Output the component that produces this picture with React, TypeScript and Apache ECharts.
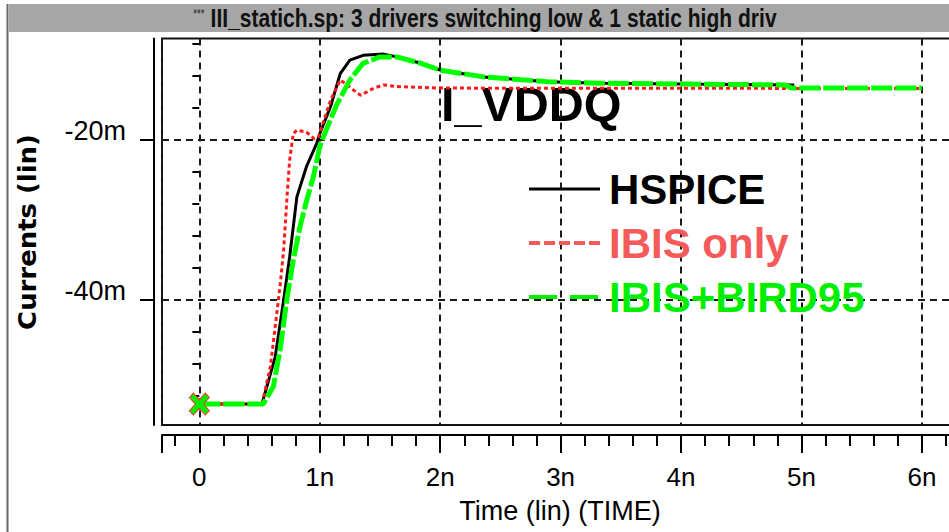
import React, { useEffect, useRef } from 'react';
import * as echarts from 'echarts';

// ---- data (time in ns, current in mA) ----
const hspiceT = [0, 0.52, 0.63, 0.70, 0.75, 0.81, 0.89, 0.975, 1.0, 1.09, 1.17, 1.25, 1.36, 1.53, 1.64, 1.84, 2.0, 2.36, 2.89, 3.33, 4.05, 4.94];
const hspiceV = [-53.0, -53.0, -47.1, -40.0, -34.6, -27.1, -23.3, -20.4, -19.2, -15.8, -11.7, -10.0, -9.4, -9.25, -9.6, -10.4, -11.25, -12.1, -12.7, -12.9, -13.0, -13.1];

const ibisT = [0, 0.52, 0.59, 0.67, 0.70, 0.73, 0.75, 0.78, 0.81, 0.89, 0.95, 0.99, 1.09, 1.17, 1.21, 1.28, 1.34, 1.45, 1.53, 1.64, 2.0, 6.0];
const ibisV = [-53.0, -53.0, -48.3, -38.3, -33.8, -26.7, -22.5, -19.2, -18.75, -19.0, -19.8, -19.6, -15.0, -12.5, -12.9, -13.75, -14.4, -13.5, -13.1, -13.3, -13.5, -13.55];

const birdT = [0, 0.53, 0.615, 0.67, 0.726, 0.78, 0.836, 0.892, 0.947, 1.0, 1.03, 1.14, 1.25, 1.36, 1.5, 1.64, 1.84, 2.0, 2.36, 2.89, 3.33, 4.05, 4.86, 4.92, 6.0];
const birdV = [-53.0, -53.0, -50.8, -46.25, -40.0, -35.0, -30.8, -27.5, -24.6, -20.8, -19.6, -15.6, -12.5, -10.4, -9.6, -9.6, -10.4, -11.25, -12.1, -12.7, -12.9, -13.0, -13.1, -13.5, -13.5];

const markerT = [0];
const markerV = [-53.0];

const xMajorTicks = [-0.31, 0, 1, 2, 3, 4, 5, 6];
const xLabels = [0, 1, 2, 3, 4, 5, 6];
const xMinorTicks = [-0.2, 0.2, 0.4, 0.6, 0.8, 1.2, 1.4, 1.6, 1.8, 2.2, 2.4, 2.6, 2.8, 3.2, 3.4, 3.6, 3.8, 4.2, 4.4, 4.6, 4.8, 5.2, 5.4, 5.6, 5.8, 6.2];
const yLabels = [-40, -20];
const yMinorTicks = [-52, -48, -44, -36, -32, -28, -24, -16, -12, -8];

const seriesNames = ['HSPICE', 'IBIS only', 'IBIS+BIRD95'];
const titleText = 'III_statich.sp: 3 drivers switching low & 1 static high driv';
const annotation = 'I_VDDQ';
const yName = 'Currents (lin)';
const xName = 'Time (lin) (TIME)';

const pair = (t: number[], v: number[]) => t.map((x, i) => [x, v[i]]);

const sans = "'Liberation Sans', Arial, sans-serif";
const hiddenSymbol = { color: 'rgba(0,0,0,0)', borderColor: 'rgba(0,0,0,0)', borderWidth: 0, opacity: 0 };

export default function App() {
  const ref = useRef<HTMLDivElement>(null);
  useEffect(() => {
    const chart = echarts.init(ref.current!, null, { renderer: 'svg' });
    const option: any = {
      animation: false,
      backgroundColor: '#ffffff',
      grid: {
        left: 162, top: 38.5, width: 796, height: 386.4,
        show: true, borderColor: '#111', borderWidth: 2,
        containLabel: false, outerBoundsMode: 'none',
      },
      xAxis: [
        {
          type: 'value', min: -0.31, max: 6.3, position: 'bottom', offset: 10,
          axisLine: { show: true, onZero: false, lineStyle: { color: '#000', width: 2 } },
          axisTick: { show: true, length: 18, customValues: xMajorTicks, lineStyle: { color: '#000', width: 2 } },
          axisLabel: {
            customValues: xLabels, margin: 29, fontSize: 26, color: '#000', fontFamily: sans,
            formatter: (v: number) => (v === 0 ? '0' : `${v}n`),
          },
          splitLine: { show: true, lineStyle: { color: '#1a1a1a', width: 2, type: [7, 5] } },
          name: xName, nameLocation: 'middle', nameGap: 63,
          nameTextStyle: { fontSize: 27, color: '#000', fontFamily: sans },
        },
        {
          type: 'value', min: -0.31, max: 6.3, position: 'bottom', offset: 10,
          axisLine: { show: false },
          axisTick: { show: true, length: 11, customValues: xMinorTicks, lineStyle: { color: '#000', width: 2 } },
          axisLabel: { show: false },
          splitLine: { show: false },
        },
      ],
      yAxis: [
        {
          type: 'value', min: -55.6, max: -7.3, position: 'left', offset: 8,
          axisLine: { show: true, onZero: false, lineStyle: { color: '#000', width: 2 } },
          axisTick: { show: true, length: 14, customValues: yLabels, lineStyle: { color: '#000', width: 2 } },
          axisLabel: {
            customValues: yLabels, margin: 28, fontSize: 27, color: '#000', fontFamily: sans,
            verticalAlign: 'bottom', lineHeight: 18,
            formatter: (v: number) => `${v}m`,
          },
          splitLine: { show: true, lineStyle: { color: '#1a1a1a', width: 2, type: [7, 5] } },
        },
        {
          type: 'value', min: -55.6, max: -7.3, position: 'left', offset: 8,
          axisLine: { show: false },
          axisTick: { show: true, length: 7, customValues: yMinorTicks, lineStyle: { color: '#000', width: 2 } },
          axisLabel: { show: false },
          splitLine: { show: false },
        },
      ],
      legend: {
        orient: 'vertical', left: 527, top: 168, itemWidth: 71, itemHeight: 20, itemGap: 12,
        selectedMode: false, padding: 0,
        textStyle: { fontSize: 42, fontWeight: 'bold', fontFamily: sans, lineHeight: 42, padding: [0, 0, 0, 4] },
        data: [
          { name: seriesNames[0], textStyle: { color: '#000' }, itemStyle: hiddenSymbol, lineStyle: { color: '#000', width: 3, type: 'solid' } },
          { name: seriesNames[1], textStyle: { color: '#f55a5a' }, itemStyle: hiddenSymbol, lineStyle: { color: '#f55a5a', width: 4, type: [11, 4] } },
          { name: seriesNames[2], textStyle: { color: '#00ee00' }, itemStyle: hiddenSymbol, lineStyle: { color: '#00ee00', width: 4, type: [28, 13] } },
        ],
      },
      graphic: [
        { type: 'line', shape: { x1: 7.5, y1: 4, x2: 7.5, y2: 532 }, style: { stroke: '#666', lineWidth: 2 } },
        { type: 'rect', shape: { x: 9, y: 4, width: 940, height: 28 }, style: { fill: '#a6a6a6' } },
        {
          type: 'text', x: 485, y: 18, scaleX: 0.81,
          style: {
            text: `{a|***} ${titleText}`,
            rich: { a: { fontSize: 12, fontFamily: sans, fill: '#222', padding: [0, 0, 9, 0] } },
            fontSize: 26, fontWeight: 'bold', fontFamily: sans, fill: '#111',
            align: 'center', verticalAlign: 'middle',
          },
        },
        {
          type: 'text', x: 28, y: 232, rotation: Math.PI / 2, scaleX: 1.08,
          style: {
            text: yName, fontSize: 24, fontWeight: 'bold', fontFamily: "'DejaVu Sans', sans-serif", fill: '#000',
            align: 'center', verticalAlign: 'middle',
          },
        },
        {
          type: 'text', x: 441, y: 104,
          style: { text: annotation, fontSize: 48.5, fontWeight: 'bold', fontFamily: sans, fill: '#000', align: 'left', verticalAlign: 'middle' },
        },
      ],
      series: [
        {
          name: seriesNames[0], type: 'line', data: pair(hspiceT, hspiceV), symbol: 'none',
          lineStyle: { color: '#000', width: 3, type: 'solid' }, itemStyle: { color: '#000' },
        },
        {
          name: seriesNames[1], type: 'line', data: pair(ibisT, ibisV), symbol: 'none',
          lineStyle: { color: '#ff1a1a', width: 3, type: [4, 3] }, itemStyle: { color: '#ff1a1a' },
        },
        {
          name: seriesNames[2], type: 'line', data: pair(birdT, birdV), symbol: 'none',
          lineStyle: { color: '#00ff00', width: 5, type: [21, 3] }, itemStyle: { color: '#00ff00' },
        },
        {
          type: 'scatter', data: pair(markerT, markerV),
          symbol: 'path://M0,2L2,0L5,3L8,0L10,2L7,5L10,8L8,10L5,7L2,10L0,8L3,5Z',
          symbolSize: [20, 22],
          itemStyle: { color: '#00ee00', borderColor: '#ff3030', borderWidth: 1, opacity: 1 },
          z: 5,
        },
      ],
    };
    chart.setOption(option);
    return () => chart.dispose();
  }, []);
  return (
    <div
      ref={ref}
      style={{ position: 'fixed', left: 0, top: 0, width: 949, height: 532, background: '#fff' }}
    />
  );
}
